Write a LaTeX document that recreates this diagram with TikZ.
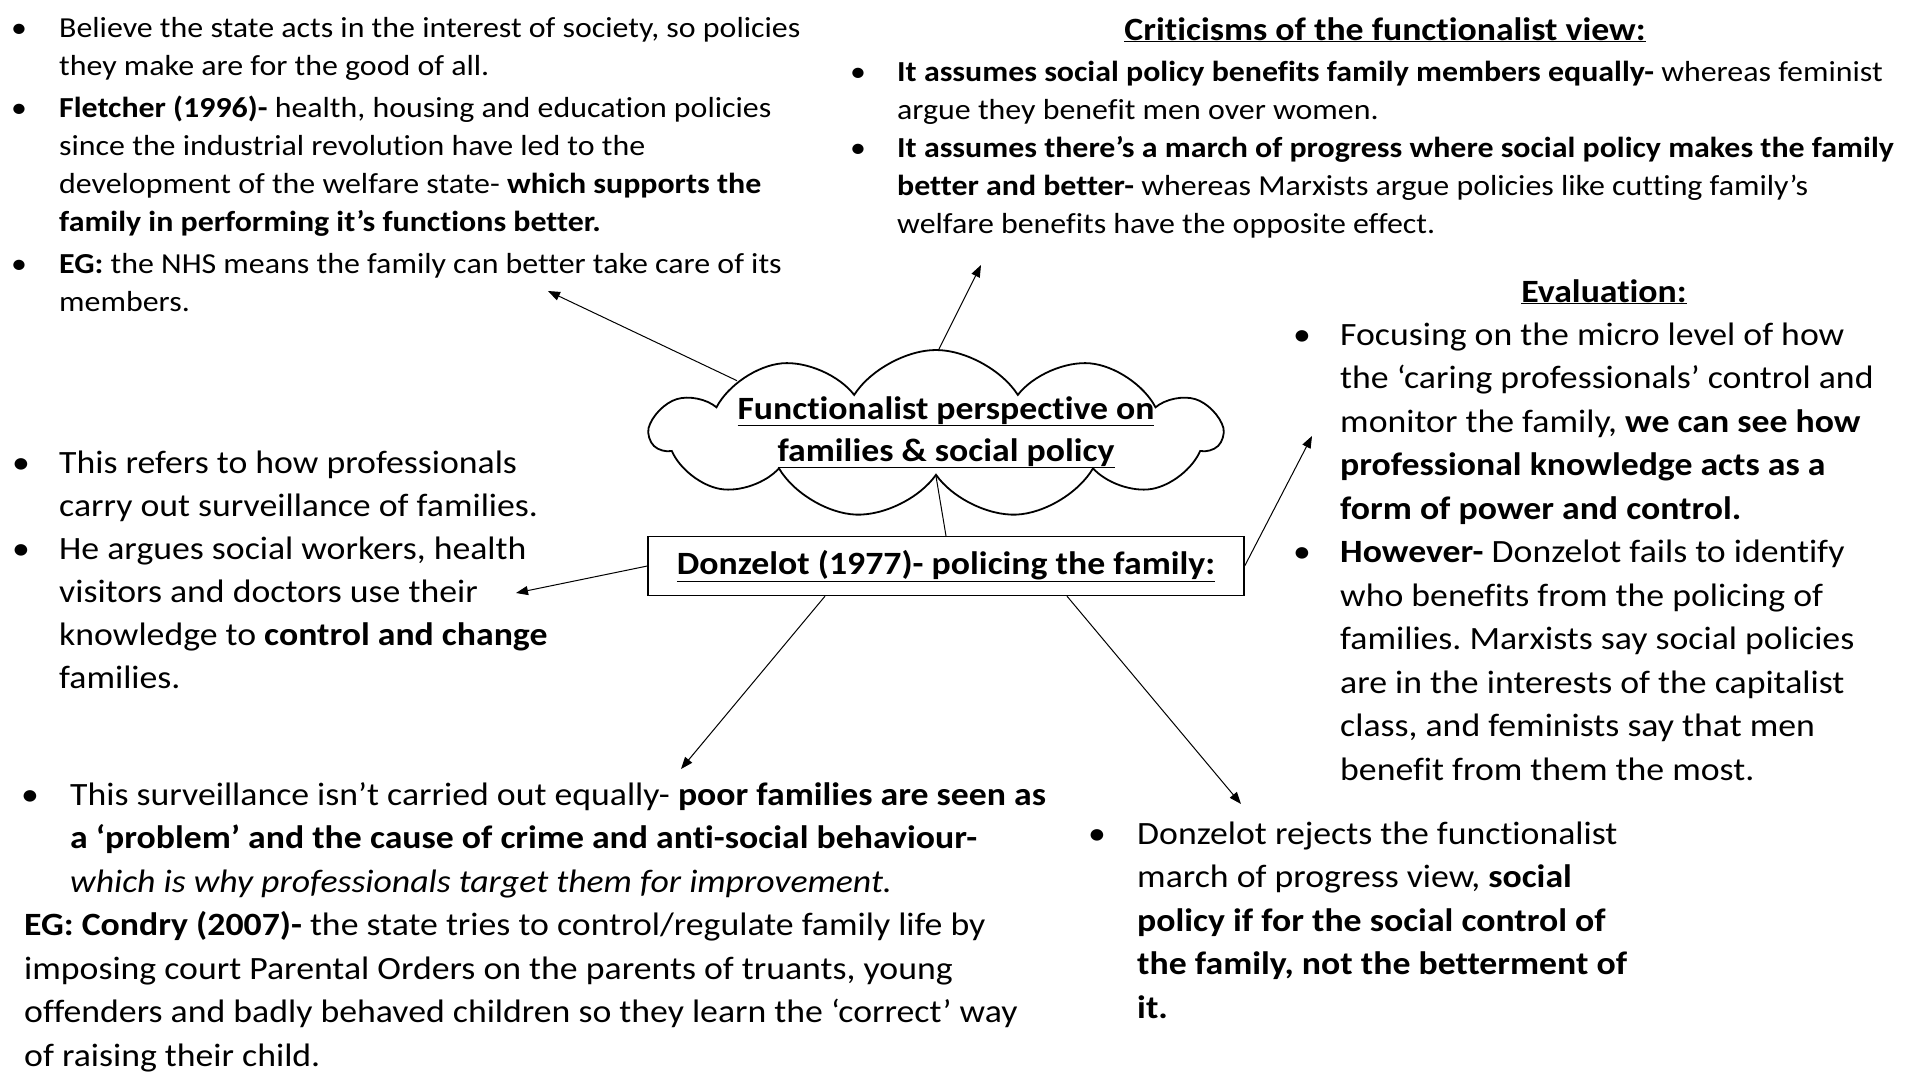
\documentclass[tikz,border=0pt]{standalone}
\usepackage{fontspec}
\setmainfont{Carlito}[FakeStretch=1.1,Ligatures=CommonOff]
\usetikzlibrary{arrows.meta,shapes.symbols}
\frenchspacing
\newcommand{\bul}{\textbullet}
\newcommand{\bigtxt}{\fontsize{32.5pt}{43.5pt}\selectfont}
\newcommand{\smalltxt}{\fontsize{29pt}{38pt}\selectfont}
\begin{document}
\begin{tikzpicture}[x=1pt,y=-1pt,
  block/.style={anchor=base west,inner sep=0pt},
  head/.style={anchor=base,inner sep=0pt,font=\bigtxt\bfseries},
  arr/.style={-{Triangle[length=12pt,width=9pt]},line width=1pt}]
  \useasboundingbox (0,0) rectangle (1920,1080);
  % the two topics in the middle
  \node[cloud,draw,line width=1.8pt,cloud puffs=11,cloud puff arc=115,aspect=3.4,
    minimum width=570pt,minimum height=168pt] (cloud) at (936,434) {};
  \node[head] (cloudtxt) at (946,419) {\begin{tabular}[t]{@{}c@{}}
    \underline{Functionalist perspective on}\\[-1.5pt]
    \underline{families \& social policy}\end{tabular}};
  \node[draw,line width=1.3pt,minimum width=596pt,minimum height=59pt,inner sep=0pt,
    font=\bigtxt\bfseries] (box) at (946,566) {\underline{Donzelot (1977)- policing the family:}};
  % text blocks
  \node[block,font=\smalltxt] (fletcher) at (11,37) {\begin{tabular}[t]{@{}p{48pt}@{}l@{}}
    \bul & Believe the state acts in the interest of society, so policies\\
    & they make are for the good of all.\\[4pt]
    \bul & \textbf{Fletcher (1996)-} health, housing and education policies\\
    & since the industrial revolution have led to the\\
    & development of the welfare state- \textbf{which supports the}\\
    & \textbf{family in performing it’s functions better.}\\[4pt]
    \bul & \textbf{EG:} the NHS means the family can better take care of its\\
    & members.
  \end{tabular}};
  \node[head] (crithead) at (1385,40) {\underline{Criticisms of the functionalist view:}};
  \node[block,font=\smalltxt] (critics) at (850,81) {\begin{tabular}[t]{@{}p{47pt}@{}l@{}}
    \bul & \textbf{It assumes social policy benefits family members equally-} whereas feminist\\
    & argue they benefit men over women.\\
    \bul & \textbf{It assumes there’s a march of progress where social policy makes the family}\\
    & \textbf{better and better-} whereas Marxists argue policies like cutting family’s\\
    & welfare benefits have the opposite effect.
  \end{tabular}};
  \node[head] (evalhead) at (1604,302) {\underline{Evaluation:}};
  \node[block,font=\bigtxt] (evaluation) at (1293,345) {\begin{tabular}[t]{@{}p{47pt}@{}l@{}}
    \bul & Focusing on the micro level of how\\
    & the ‘caring professionals’ control and\\
    & monitor the family, \textbf{we can see how}\\
    & \textbf{professional knowledge acts as a}\\
    & \textbf{form of power and control.}\\
    \bul & \textbf{However-} Donzelot fails to identify\\
    & who benefits from the policing of\\
    & families. Marxists say social policies\\
    & are in the interests of the capitalist\\
    & class, and feminists say that men\\
    & benefit from them the most.
  \end{tabular}};
  \node[block,font=\bigtxt] (policing) at (12,473) {\begin{tabular}[t]{@{}p{47pt}@{}l@{}}
    \bul & This refers to how professionals\\[-0.5pt]
    & carry out surveillance of families.\\[-0.5pt]
    \bul & He argues social workers, health\\[-0.5pt]
    & visitors and doctors use their\\[-0.5pt]
    & knowledge to \textbf{control and change}\\[-0.5pt]
    & families.
  \end{tabular}};
  \node[block,font=\bigtxt] (surveillance) at (21,805) {\begin{tabular}[t]{@{}p{49pt}@{}l@{}}
    \bul & This surveillance isn’t carried out equally- \textbf{poor families are seen as}\\
    & \textbf{a ‘problem’ and the cause of crime and anti-social behaviour-}\\
    & \textit{which is why professionals target them for improvement.}\\
    \multicolumn{2}{@{\hspace{3pt}}l@{}}{\textbf{EG: Condry (2007)-} the state tries to control/regulate family life by}\\
    \multicolumn{2}{@{\hspace{3pt}}l@{}}{imposing court Parental Orders on the parents of truants, young}\\
    \multicolumn{2}{@{\hspace{3pt}}l@{}}{offenders and badly behaved children so they learn the ‘correct’ way}\\
    \multicolumn{2}{@{\hspace{3pt}}l@{}}{of raising their child.}
  \end{tabular}};
  \node[block,font=\bigtxt] (rejects) at (1088,844) {\begin{tabular}[t]{@{}p{49pt}@{}l@{}}
    \bul & Donzelot rejects the functionalist\\
    & march of progress view, \textbf{social}\\
    & \textbf{policy if for the social control of}\\
    & \textbf{the family, not the betterment of}\\
    & \textbf{it.}
  \end{tabular}};
  % arrows
  \coordinate (tltip) at (548,291);
  \coordinate (trtip) at (981,265);
  \coordinate (lmtip) at (516,593);
  \coordinate (evtip) at (1312,436);
  \coordinate (bltip) at (681,769);
  \coordinate (brtip) at (1241,804);
  \draw[arr] (cloud.165) -- (tltip);
  \draw[arr] (cloud.88) -- (trtip);
  \draw[line width=1pt] (cloud.270) -- (box.north);
  \draw[arr] (box.west) -- (lmtip);
  \draw[arr] (box.east) -- (evtip);
  \draw[arr] (box.194) -- (bltip);
  \draw[arr] (box.346) -- (brtip);
\end{tikzpicture}
\end{document}
